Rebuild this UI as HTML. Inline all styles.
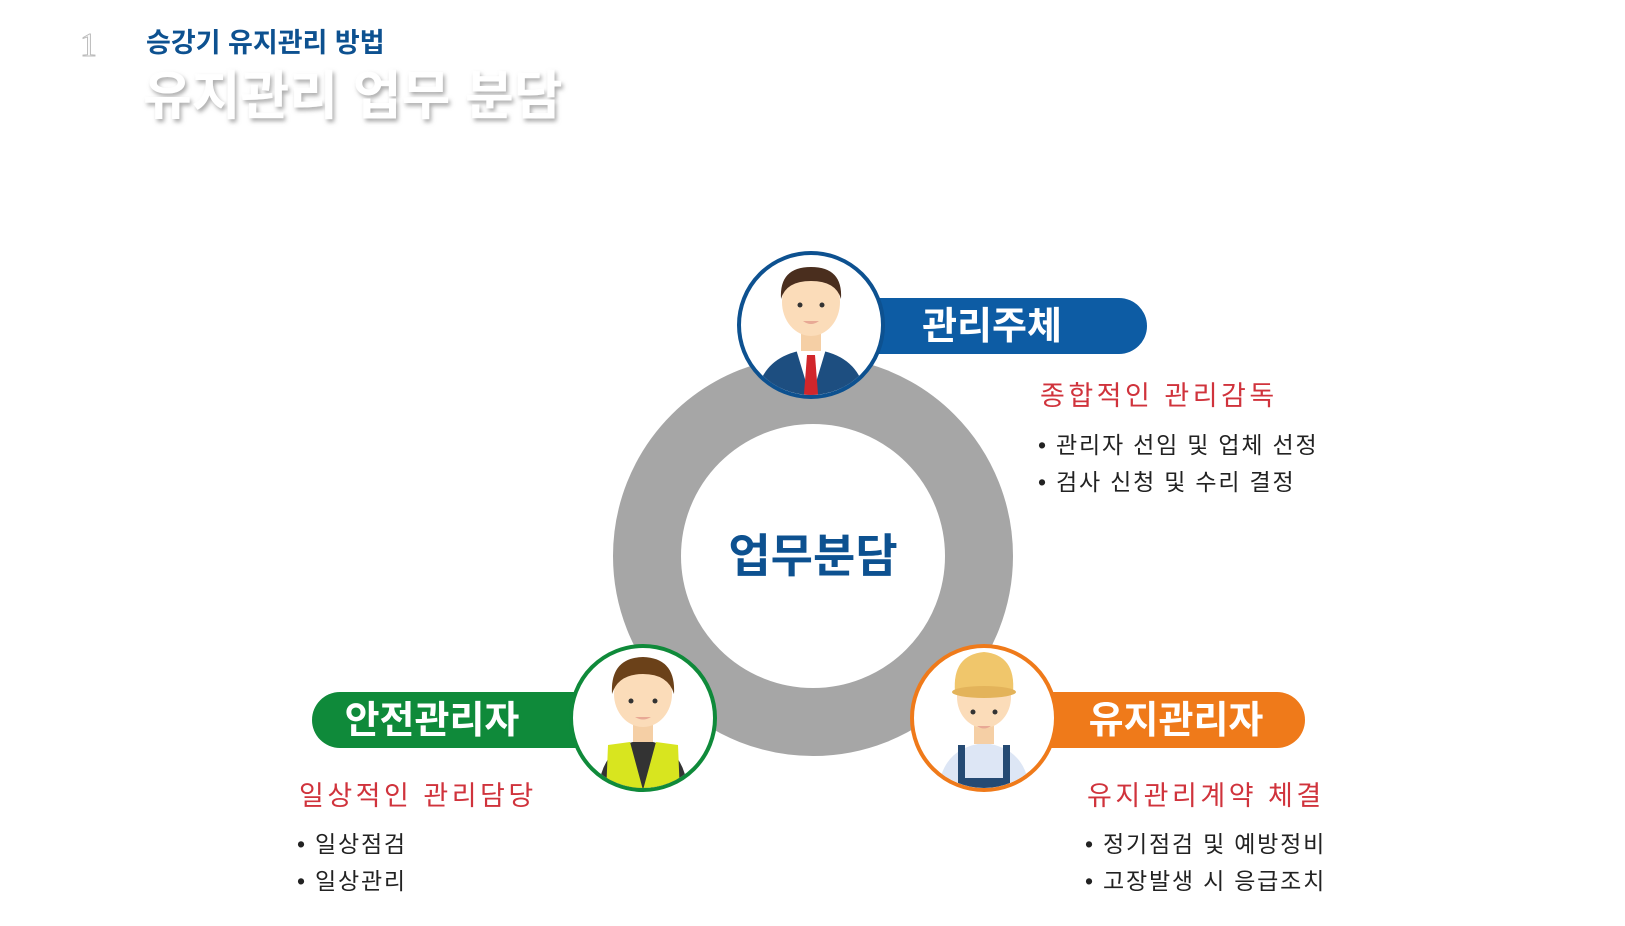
<!DOCTYPE html>
<html><head><meta charset="utf-8"><style>
html,body{margin:0;padding:0;background:#fff;}
body{width:1625px;height:926px;overflow:hidden;position:relative;font-family:"Liberation Sans","Noto Sans CJK KR",sans-serif;}
</style></head><body>
<svg width="1625" height="926" viewBox="0 0 1625 926" xmlns="http://www.w3.org/2000/svg" style="position:absolute;left:0;top:0;font-family:'Liberation Sans','Noto Sans CJK KR',sans-serif">
<defs>
<filter id="sh" x="-10%" y="-10%" width="120%" height="140%"><feDropShadow dx="2" dy="3" stdDeviation="2" flood-color="#888" flood-opacity="0.7"/></filter>
<clipPath id="c1"><circle cx="811" cy="325" r="70"/></clipPath>
<clipPath id="c2"><circle cx="643" cy="718" r="70"/></clipPath>
<clipPath id="c3"><circle cx="984" cy="718" r="70"/></clipPath>
</defs>
<text x="80" y="56" font-size="34" fill="#fff" stroke="#bbb" stroke-width="1" font-family="Liberation Serif,serif">1</text>
<text x="146" y="52" font-size="27" font-weight="bold" fill="#0d5190">승강기 유지관리 방법</text>
<text x="143" y="114" font-size="53" font-weight="bold" fill="#fff" filter="url(#sh)">유지관리 업무 분담</text>

<circle cx="813" cy="556" r="166" fill="none" stroke="#a6a6a6" stroke-width="68"/>
<text x="813" y="572" font-size="46" font-weight="bold" fill="#0d5190" text-anchor="middle">업무분담</text>

<rect x="836" y="298" width="311" height="56" rx="28" fill="#0d5ca4"/>
<text x="992" y="339" font-size="38" font-weight="bold" fill="#fff" text-anchor="middle">관리주체</text>
<rect x="312" y="692" width="300" height="56" rx="28" fill="#0f8a3a"/>
<text x="432" y="733" font-size="38" font-weight="bold" fill="#fff" text-anchor="middle">안전관리자</text>
<rect x="1010" y="692" width="295" height="56" rx="28" fill="#ef7a1a"/>
<text x="1176" y="733" font-size="38" font-weight="bold" fill="#fff" text-anchor="middle">유지관리자</text>

<circle cx="811" cy="325" r="72" fill="#fff" stroke="#0d5190" stroke-width="4"/>
<g clip-path="url(#c1)">
<path d="M756 399 Q761 354 811 349 Q861 354 866 399Z" fill="#1d4e80"/>
<path d="M796 349 L811 399 L826 349Z" fill="#fff"/>
<path d="M807 355 L815 355 L818 394 L811 401 L804 394Z" fill="#d1262b"/>
<rect x="801" y="329" width="20" height="22" fill="#f5cfa5"/>
<ellipse cx="811" cy="302" rx="29" ry="34" fill="#fbdcb9"/>
<path d="M781 299 Q779 267 811 267 Q843 267 841 299 Q836 281 811 281 Q786 281 781 299Z" fill="#4a2e1e"/>
<circle cx="800" cy="305" r="2.5" fill="#333"/><circle cx="822" cy="305" r="2.5" fill="#333"/>
<path d="M803 321 Q811 327 819 321" fill="#e8a995"/>
</g>
<circle cx="643" cy="718" r="72" fill="#fff" stroke="#0f8a3a" stroke-width="4"/>
<g clip-path="url(#c2)">
<path d="M598 795 Q600 745 643 740 Q686 745 688 795Z" fill="#333"/>
<path d="M608 745 L630 742 L643 790 L656 742 L678 745 L680 795 L606 795Z" fill="#d8e51f"/>
<rect x="633" y="722" width="20" height="20" fill="#f5cfa5"/>
<ellipse cx="643" cy="694" rx="29" ry="33" fill="#fbdcb9"/>
<path d="M612 694 Q610 658 643 657 Q676 658 674 694 Q668 674 643 674 Q618 674 612 694Z" fill="#6b4119"/>
<circle cx="631" cy="701" r="2.5" fill="#333"/><circle cx="655" cy="701" r="2.5" fill="#333"/>
<path d="M635 717 Q643 722 651 717" fill="#e8a995"/>
</g>
<circle cx="984" cy="718" r="72" fill="#fff" stroke="#ef7a1a" stroke-width="4"/>
<g clip-path="url(#c3)">
<path d="M938 795 Q940 748 984 743 Q1028 748 1030 795Z" fill="#dde6f5"/>
<path d="M958 745 L965 745 L965 778 L1003 778 L1003 745 L1010 745 L1010 795 L958 795Z" fill="#254a73"/>
<rect x="974" y="722" width="20" height="22" fill="#f5cfa5"/>
<ellipse cx="984" cy="697" rx="27" ry="31" fill="#fbdcb9"/>
<path d="M955 692 Q952 655 984 652 Q1016 655 1013 692Z" fill="#f0c66b"/>
<ellipse cx="984" cy="692" rx="32" ry="6" fill="#e3b35a"/>
<circle cx="973" cy="712" r="2.5" fill="#333"/><circle cx="995" cy="712" r="2.5" fill="#333"/>
<path d="M977 726 Q984 731 991 726" fill="#e8a995"/>
</g>

<g font-size="27" fill="#d0333c" letter-spacing="3.5">
<text x="1040" y="405">종합적인 관리감독</text>
<text x="299" y="805">일상적인 관리담당</text>
<text x="1087" y="805">유지관리계약 체결</text>
</g>
<g font-size="23" fill="#222" letter-spacing="1.8">
<text x="1038" y="453">• 관리자 선임 및 업체 선정</text>
<text x="1038" y="490">• 검사 신청 및 수리 결정</text>
<text x="297" y="852">• 일상점검</text>
<text x="297" y="889">• 일상관리</text>
<text x="1085" y="852">• 정기점검 및 예방정비</text>
<text x="1085" y="889">• 고장발생 시 응급조치</text>
</g>
</svg>
</body></html>
